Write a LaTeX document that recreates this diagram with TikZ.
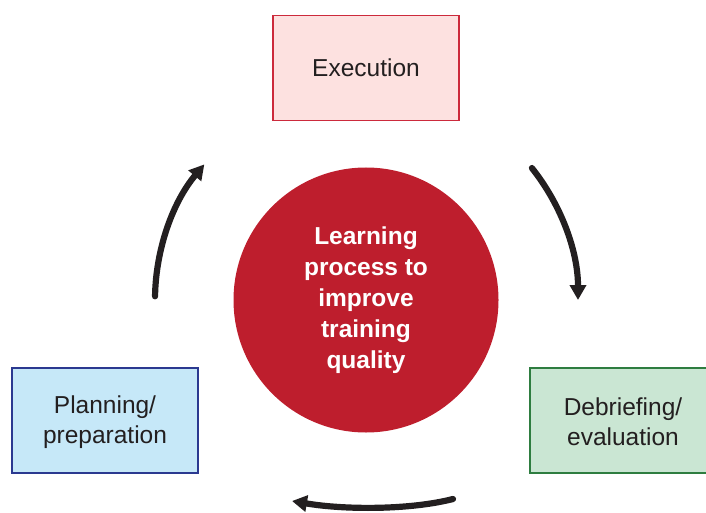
\documentclass[tikz,border=0pt]{standalone}
\usepackage{fontspec}
\setmainfont{Liberation Sans}
\usetikzlibrary{arrows.meta,calc}
\definecolor{circred}{HTML}{BE1E2D}
\definecolor{exfill}{HTML}{FDE1E0}
\definecolor{exdraw}{HTML}{CC2A3C}
\definecolor{plfill}{HTML}{C6E8F8}
\definecolor{pldraw}{HTML}{2B3990}
\definecolor{defill}{HTML}{CAE6D3}
\definecolor{dedraw}{HTML}{2E7D40}
\definecolor{txt}{HTML}{231F20}
\tikzset{
  stagebox/.style={draw, line width=1.3pt, minimum width=186pt, minimum height=105pt,
    inner sep=0pt, align=center, text=txt,
    font=\fontsize{24.5}{30}\selectfont},
  cyclearrow/.style={line width=6.2pt, line cap=round, draw=txt,
    -{Triangle[length=15pt,width=16pt]}}
}
\begin{document}
\begin{tikzpicture}[x=1pt,y=1pt]
\useasboundingbox (0,0) rectangle (706,512);
\clip (0,0) rectangle (706,512);
\node[circle, fill=circred, minimum size=265pt, inner sep=0pt, text=white, align=center,
  font=\fontsize{24.5}{31}\selectfont\bfseries] (c) at (366,212)
  {Learning\\process to\\improve\\training\\quality};
\node[stagebox, fill=exfill, draw=exdraw] (ex) at (366,444) {Execution};
\node[stagebox, fill=plfill, draw=pldraw] (pl) at (105,91.5) {\strut Planning/\\preparation};
\node[stagebox, fill=defill, draw=dedraw] (de) at (623,91.5) {\strut Debriefing/\\evaluation};
\coordinate (ls) at ($(c)+(179:211)$);
\coordinate (rs) at ($(c)+(38.5:212)$);
\coordinate (bs) at (453,13);
\coordinate (be) at (292,11);
\draw[cyclearrow] (ls) arc[start angle=179, end angle=140, radius=211];
\draw[cyclearrow] (rs) arc[start angle=38.5, end angle=0, radius=212];
\draw[cyclearrow] (bs) .. controls (410,2) and (345,2) .. (be);
\end{tikzpicture}
\end{document}
